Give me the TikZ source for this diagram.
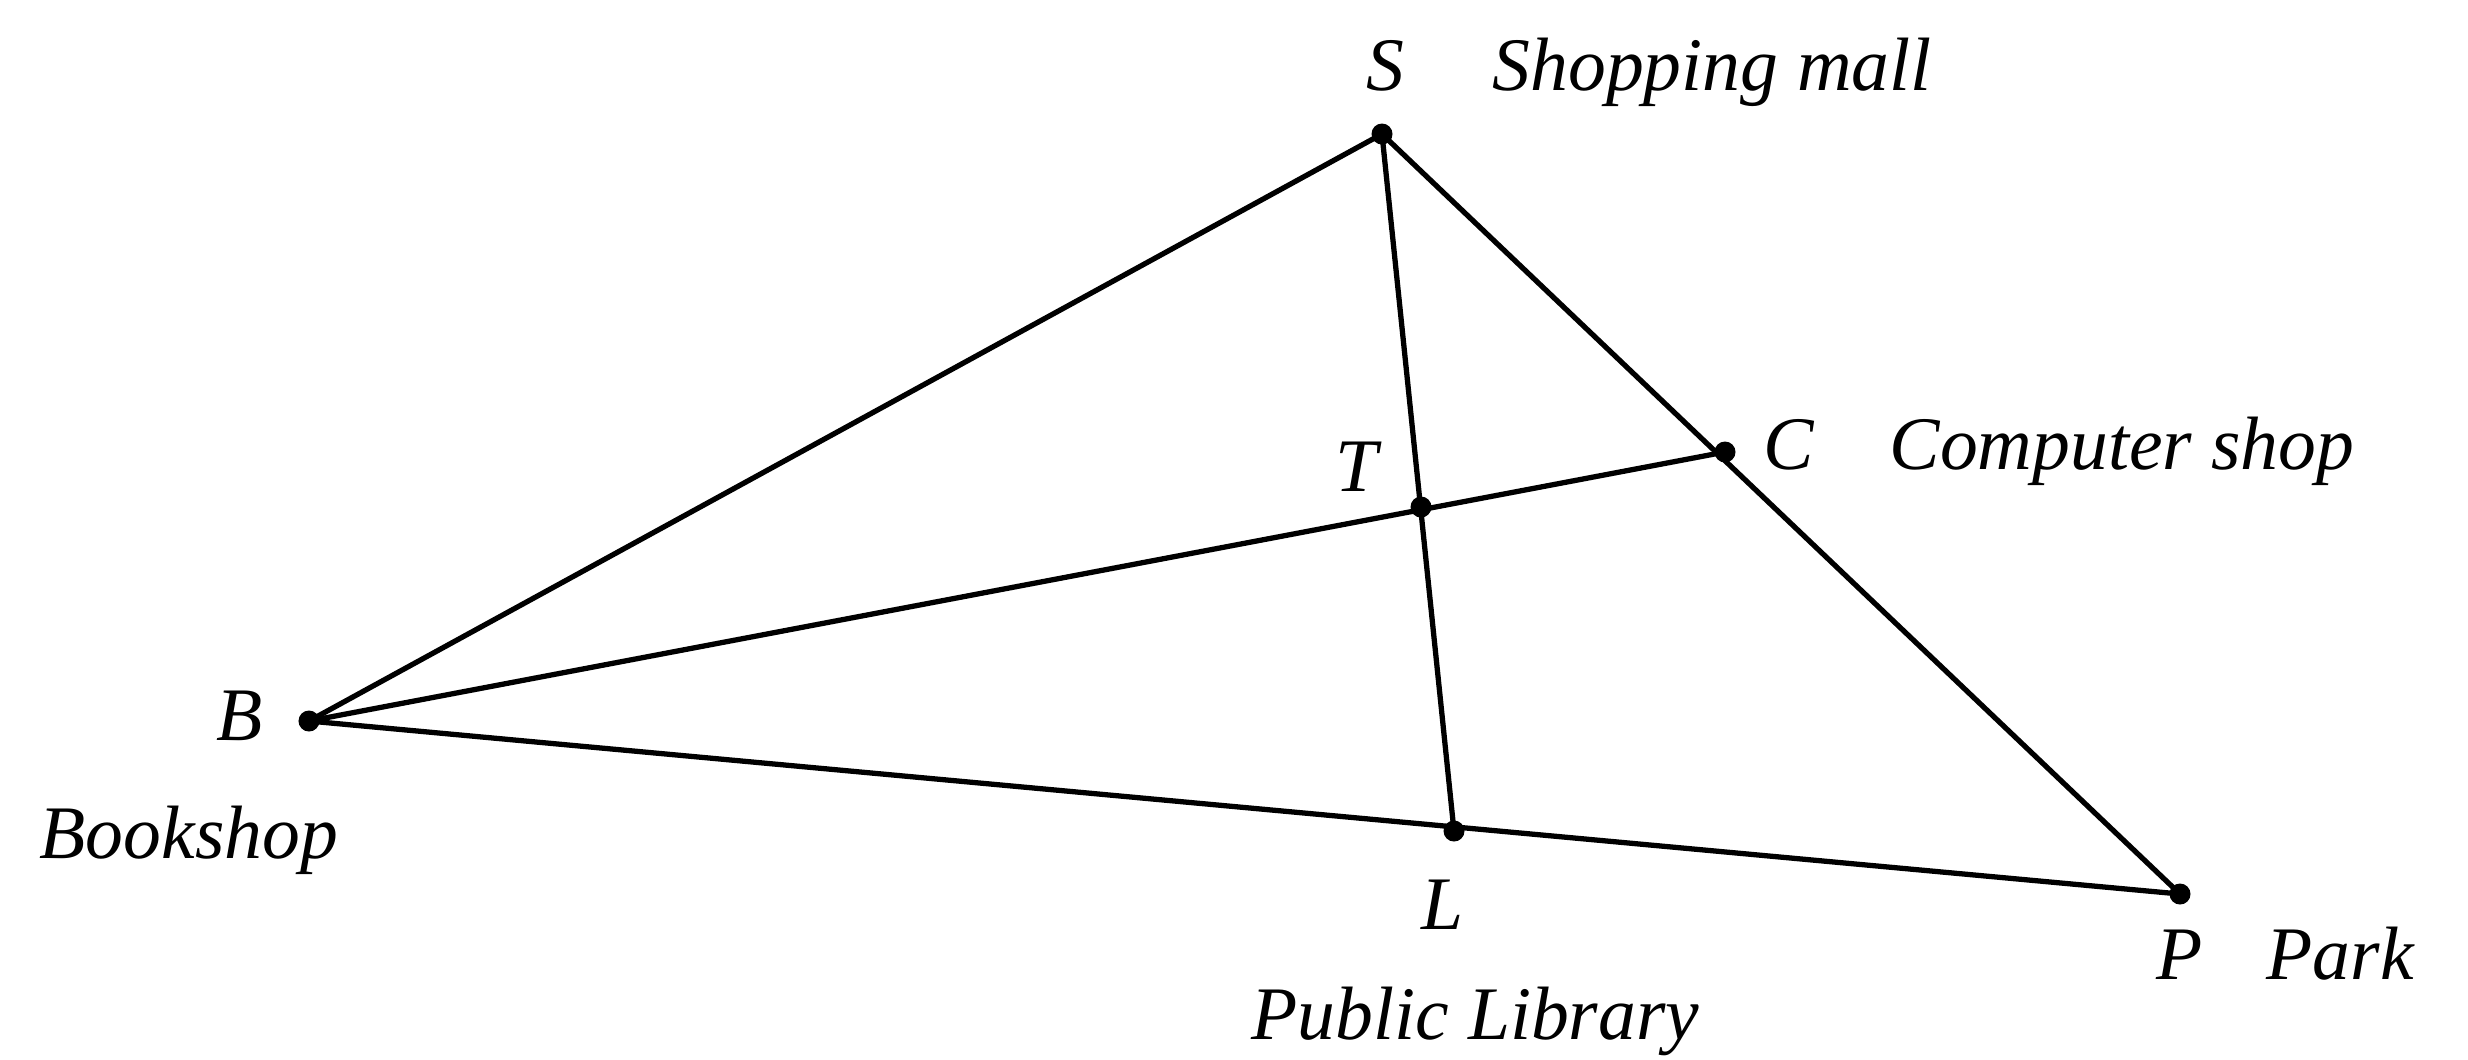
\documentclass[tikz,border=0pt]{standalone}
\usepackage{fontspec}
\setmainfont{Liberation Serif}
\begin{document}
\begin{tikzpicture}[x=0.01cm,y=-0.01cm,
  dot/.style={circle,fill=black,inner sep=0pt,minimum size=0.21cm},
  seg/.style={line width=1.5pt,black},
  lbl/.style={anchor=base west,inner sep=0pt,font=\fontsize{21.5}{24}\selectfont\itshape}]
\useasboundingbox (0,0) rectangle (2468,1059);
\coordinate (S) at (1382,134);
\coordinate (C) at (1725,452);
\coordinate (T) at (1421,507);
\coordinate (B) at (309,721);
\coordinate (L) at (1454,831);
\coordinate (P) at (2180,894);
\draw[seg] (B) -- (S) -- (P) -- cycle;
\draw[seg] (S) -- (L);
\draw[seg] (B) -- (C);
\foreach \p in {S,C,T,B,L,P} \node[dot] (d\p) at (\p) {};
\node[lbl] (lS) at (1366,90) {S};
\node[lbl] (nS) at (1492,90) {Shopping mall};
\node[lbl] (lC) at (1763,469) {C};
\node[lbl] (nC) at (1889,469) {Computer shop};
\node[lbl] (lT) at (1335,491) {T};
\node[lbl] (lB) at (216,740) {B};
\node[lbl] (nB) at (39,858) {Bookshop};
\node[lbl] (lL) at (1421,929) {L};
\node[lbl] (lP) at (2156,979) {P};
\node[lbl] (nP) at (2266,979) {Park};
\node[lbl] (nL) at (1251,1039) {Public Library};
\end{tikzpicture}
\end{document}
